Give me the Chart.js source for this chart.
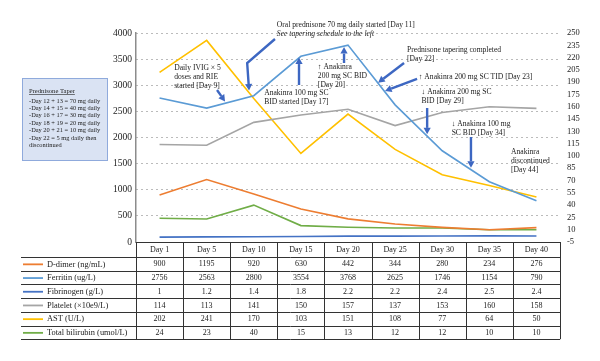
<!DOCTYPE html>
<html>
<head>
<meta charset="utf-8">
<script src="https://cdn.jsdelivr.net/npm/chart.js@4.4.1/dist/chart.umd.min.js"></script>
<style>
  body { margin: 0; background: #fff; }
  #wrap { width: 600px; height: 361px; }
</style>
</head>
<body>
<div id="wrap"><canvas id="myChart" width="600" height="361"></canvas></div>
<script>
const days = ["Day 1", "Day 5", "Day 10", "Day 15", "Day 20", "Day 25", "Day 30", "Day 35", "Day 40"];
const dDimer = [900, 1195, 920, 630, 442, 344, 280, 234, 276];
const ferritin = [2756, 2563, 2800, 3554, 3768, 2625, 1746, 1154, 790];
const fibrinogen = [1, 1.2, 1.4, 1.8, 2.2, 2.2, 2.4, 2.5, 2.4];
const platelet = [114, 113, 141, 150, 157, 137, 153, 160, 158];
const ast = [202, 241, 170, 103, 151, 108, 77, 64, 50];
const bilirubin = [24, 23, 40, 15, 13, 12, 12, 10, 10];

const taper = [
  "-Day 12 + 13 = 70 mg daily",
  "-Day 14 + 15 = 40 mg daily",
  "-Day 16 + 17 = 30 mg daily",
  "-Day 18 + 19 = 20 mg daily",
  "-Day 20 + 21 = 10 mg daily",
  "-Day 22 = 5 mg daily then",
  "discontinued",
];

// notes: position in (x index, left axis value)
const notes = [
  { lines: ["Daily IVIG \u00d7 5", "doses and RIE", "started [Day 9]"], at: [0.31, 3330], arrow: [[1.22, 2909], [1.39, 2690]] },
  { lines: ["Oral prednisone 70 mg daily started [Day 11]", "See tapering schedule to the left"], italic: true, at: [2.49, 4153], arrow: [[2.45, 3885], [1.86, 3426], [1.9, 2900]] },
  { lines: ["Anakinra 100 mg SC", "BID started [Day 17]"], at: [2.22, 2852], arrow: [[2.96, 3005], [2.96, 3530]] },
  { lines: ["\u2191 Anakinra", "200 mg SC BID", "[Day 20]"], at: [3.36, 3350], arrow: [[3.916, 3426], [3.916, 3730]] },
  { lines: ["Prednisone tapering completed", "[Day 22]"], at: [5.254, 3675], arrow: [[5.19, 3426], [4.64, 3050]] },
  { lines: ["\u2191 Anakinra 200 mg SC TID [Day 23]"], at: [5.5, 3158], arrow: [[5.466, 3120], [4.787, 2890]] },
  { lines: ["\u2193 Anakinra 200 mg SC", "BID [Day 29]"], at: [5.56, 2871], arrow: [[5.68, 2565], [5.68, 2060]] },
  { lines: ["\u2193 Anakinra 100 mg", "SC BID [Day 34]"], at: [6.2, 2258], arrow: [[6.61, 2010], [6.61, 1420]] },
  { lines: ["Anakinra", "discontinued", "[Day 44]"], at: [7.46, 1723] },
];

const serif = "'Liberation Serif', 'DejaVu Serif', serif";
Chart.defaults.font.family = serif;
Chart.defaults.color = "#222";

const series = [
  { label: "D-dimer (ng/mL)", data: dDimer, color: "#ED7D31", axis: "y" },
  { label: "Ferritin (ug/L)", data: ferritin, color: "#5B9BD5", axis: "y" },
  { label: "Fibrinogen (g/L)", data: fibrinogen, color: "#4472C4", axis: "y1" },
  { label: "Platelet (\u00d710e9/L)", data: platelet, color: "#A5A5A5", axis: "y1" },
  { label: "AST (U/L)", data: ast, color: "#FFC000", axis: "y1" },
  { label: "Total bilirubin (umol/L)", data: bilirubin, color: "#70AD47", axis: "y1" },
];

function drawArrow(ctx, pts) {
  const n = pts.length;
  const [tx, ty] = pts[n - 1];
  const [px, py] = pts[n - 2];
  const ang = Math.atan2(ty - py, tx - px);
  const head = 6.5, half = 3.6;
  ctx.save();
  ctx.strokeStyle = "#3D67C2";
  ctx.fillStyle = "#3D67C2";
  ctx.lineWidth = 2.4;
  ctx.beginPath();
  ctx.moveTo(pts[0][0], pts[0][1]);
  for (let i = 1; i < n - 1; i++) ctx.lineTo(pts[i][0], pts[i][1]);
  ctx.lineTo(tx - Math.cos(ang) * head, ty - Math.sin(ang) * head);
  ctx.stroke();
  ctx.beginPath();
  ctx.moveTo(tx, ty);
  ctx.lineTo(tx - Math.cos(ang) * head - Math.sin(ang) * half, ty - Math.sin(ang) * head + Math.cos(ang) * half);
  ctx.lineTo(tx - Math.cos(ang) * head + Math.sin(ang) * half, ty - Math.sin(ang) * head - Math.cos(ang) * half);
  ctx.closePath();
  ctx.fill();
  ctx.restore();
}

const extras = {
  id: "extras",
  afterDraw(chart) {
    const ctx = chart.ctx;
    const x = chart.scales.x;
    const y = chart.scales.y;
    const area = chart.chartArea;

    // notes + arrows
    ctx.save();
    ctx.textBaseline = "middle";
    ctx.textAlign = "left";
    ctx.fillStyle = "#222";
    notes.forEach(n => {
      const sx = x.getPixelForValue(n.at[0]);
      const sy = y.getPixelForValue(n.at[1]);
      n.lines.forEach((t, i) => {
        ctx.font = (n.italic && i === 1 ? "italic " : "") + "7.6px " + serif;
        ctx.fillText(t, sx, sy + i * 8.8);
      });
      if (n.arrow) {
        drawArrow(ctx, n.arrow.map(p => [x.getPixelForValue(p[0]), y.getPixelForValue(p[1])]));
      }
    });
    ctx.restore();

    // prednisone box
    ctx.save();
    ctx.fillStyle = "#DAE3F3";
    ctx.strokeStyle = "#8FAADC";
    ctx.lineWidth = 1;
    ctx.fillRect(22, 78, 85, 82);
    ctx.strokeRect(22.5, 78.5, 85, 82);
    ctx.fillStyle = "#222";
    ctx.textBaseline = "middle";
    ctx.font = "6.6px " + serif;
    ctx.fillText("Prednisone Taper", 29, 91);
    const tw = ctx.measureText("Prednisone Taper").width;
    ctx.fillRect(29, 94, tw, 0.6);
    ctx.font = "6.4px " + serif;
    taper.forEach((t, i) => ctx.fillText(t, 29, 101 + i * 7.4));
    ctx.restore();

    // data table
    const top = area.bottom;
    const headH = 15, rowH = 13.7, labelLeft = 21;
    const edges = [];
    for (let i = 0; i <= days.length; i++) edges.push(x.getPixelForValue(i - 0.5));
    const right = edges[edges.length - 1];
    const bottom = top + headH + rowH * series.length;
    ctx.save();
    ctx.strokeStyle = "#333";
    ctx.lineWidth = 1;
    ctx.beginPath();
    ctx.moveTo(edges[0], Math.round(top) + 0.5); ctx.lineTo(right, Math.round(top) + 0.5);
    for (let r = 0; r <= series.length; r++) {
      const yy = Math.round(top + headH + r * rowH) + 0.5;
      ctx.moveTo(labelLeft, yy); ctx.lineTo(right, yy);
    }
    edges.forEach(e => {
      const xx = Math.round(e) + 0.5;
      ctx.moveTo(xx, top); ctx.lineTo(xx, bottom);
    });
    ctx.stroke();

    ctx.fillStyle = "#222";
    ctx.textBaseline = "middle";
    ctx.textAlign = "center";
    ctx.font = "8px " + serif;
    days.forEach((d, i) => ctx.fillText(d, x.getPixelForValue(i), top + headH / 2 + 0.5));
    series.forEach((s, r) => {
      const cy = top + headH + r * rowH + rowH / 2 + 0.5;
      ctx.textAlign = "center";
      ctx.font = "8px " + serif;
      s.data.forEach((v, i) => ctx.fillText(String(v), x.getPixelForValue(i), cy));
      ctx.strokeStyle = s.color;
      ctx.lineWidth = 1.8;
      ctx.beginPath(); ctx.moveTo(23, cy); ctx.lineTo(43, cy); ctx.stroke();
      ctx.textAlign = "left";
      ctx.font = "8.4px " + serif;
      ctx.fillText(s.label, 47, cy);
    });
    ctx.restore();
  },
};

new Chart(document.getElementById("myChart"), {
  type: "line",
  data: {
    labels: days,
    datasets: series.map(s => ({
      label: s.label,
      data: s.data,
      yAxisID: s.axis,
      borderColor: s.color,
      backgroundColor: s.color,
      borderWidth: 1.6,
      pointRadius: 0,
      tension: 0,
      fill: false,
    })),
  },
  options: {
    responsive: false,
    devicePixelRatio: 1,
    animation: false,
    layout: { padding: { left: 0, right: 0, top: 33, bottom: 119 } },
    plugins: { legend: { display: false }, tooltip: { enabled: false } },
    scales: {
      x: { display: false, offset: true },
      y: {
        position: "left",
        min: 0, max: 4000,
        afterFit: s => { s.width = 136; },
        ticks: { stepSize: 500, padding: 4, font: { size: 9.5 }, color: "#222", callback: v => String(v) },
        grid: { color: "#777", lineWidth: 1, drawTicks: false },
        border: { display: true, color: "#8c8c8c", width: 1.5, dash: [1, 4] },
      },
      y1: {
        position: "right",
        min: -5, max: 250,
        afterFit: s => { s.width = 40; },
        ticks: { stepSize: 15, padding: 7, autoSkip: false, font: { size: 8.5 }, color: "#222", callback: v => String(v) },
        grid: { display: false, drawTicks: false },
        border: { display: false },
      },
    },
  },
  plugins: [extras],
});
</script>
</body>
</html>
